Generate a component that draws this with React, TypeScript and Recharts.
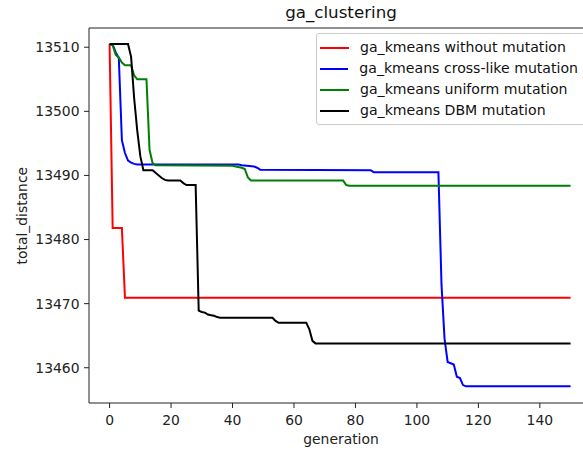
import React from 'react';
import { LineChart, Line, XAxis, YAxis, Legend, ReferenceLine } from 'recharts';

// ---- data ----
const title = 'ga_clustering';
const xLabel = 'generation';
const yLabel = 'total_distance';
const xTicks = [0, 20, 40, 60, 80, 100, 120, 140];
const yTicks = [13460, 13470, 13480, 13490, 13500, 13510];

const seriesNames = [
  'ga_kmeans without mutation',
  'ga_kmeans cross-like mutation',
  'ga_kmeans uniform mutation',
  'ga_kmeans DBM mutation',
];
const seriesColors = ['#ff0000', '#0000ff', '#008000', '#000000'];

const redGen = [0, 1, 4, 5, 150];
const redVal = [13510.5, 13481.8, 13481.8, 13470.9, 13470.9];

const blueGen = [0, 1, 2, 3, 4, 5, 6, 7, 8, 9, 42, 43, 47, 48, 49, 85, 86, 107, 108, 109, 110, 111, 112, 113, 114, 115, 116, 150];
const blueVal = [13510.5, 13510.4, 13509.2, 13508.3, 13495.5, 13493.5, 13492.3, 13492.0, 13491.8, 13491.7, 13491.7, 13491.6, 13491.4, 13491.2, 13490.9, 13490.8, 13490.5, 13490.5, 13473.0, 13464.5, 13460.9, 13460.7, 13460.5, 13458.6, 13458.4, 13457.3, 13457.1, 13457.1];

const greenGen = [0, 1, 2, 3, 4, 5, 7, 8, 9, 12, 13, 14, 15, 40, 41, 43, 44, 45, 46, 76, 77, 78, 150];
const greenVal = [13510.5, 13510.3, 13508.8, 13508.4, 13507.6, 13507.2, 13507.2, 13505.6, 13505.0, 13505.0, 13494.0, 13491.9, 13491.6, 13491.5, 13491.4, 13491.2, 13491.0, 13489.7, 13489.2, 13489.2, 13488.5, 13488.4, 13488.4];

const blackGen = [0, 6, 7, 8, 9, 10, 11, 14, 16, 17, 18, 19, 23, 24, 25, 28, 29, 30, 31, 32, 33, 34, 35, 36, 53, 54, 55, 64, 65, 66, 67, 150];
const blackVal = [13510.5, 13510.5, 13508.5, 13502.0, 13497.0, 13493.0, 13490.8, 13490.8, 13490.0, 13489.6, 13489.3, 13489.2, 13489.2, 13488.8, 13488.5, 13488.5, 13468.9, 13468.7, 13468.6, 13468.3, 13468.2, 13468.1, 13467.9, 13467.8, 13467.8, 13467.3, 13467.0, 13467.0, 13466.0, 13464.2, 13463.8, 13463.8];

const gens = [redGen, blueGen, greenGen, blackGen];
const vals = [redVal, blueVal, greenVal, blackVal];

const xDomain = [-6.7, 157.3];
const yDomain = [13454.5, 13513.0];

const FONT = 'DejaVu Sans';

const seriesData = gens.map((gs, s) => gs.map((g, i) => ({ g, v: vals[s][i] })));

const LegendBox = (props: any) => {
  const payload = [...(props.payload || [])].sort(
    (a: any, b: any) => seriesNames.indexOf(a.value) - seriesNames.indexOf(b.value)
  );
  return (
    <div
      style={{
        border: '1px solid #cccccc',
        borderRadius: 3,
        background: 'rgba(255,255,255,0.8)',
        padding: '3px 8px 3px 3px',
        fontFamily: FONT,
        fontSize: 14.1,
        color: '#111',
        width: 258,
      }}
    >
      {payload.map((p: any) => (
        <div key={p.value} style={{ height: 21, display: 'flex', alignItems: 'center', whiteSpace: 'nowrap' }}>
          <span style={{ display: 'inline-block', width: 29, height: 2, background: p.color }} />
          <span style={{ marginLeft: 11, lineHeight: '21px' }}>{p.value}</span>
        </div>
      ))}
    </div>
  );
};

const XLabel = () => (
  <text x={341} y={444} textAnchor="middle" fontFamily={FONT} fontSize={13.9} fill="#222">
    {xLabel}
  </text>
);

const YLabel = () => (
  <text
    x={27}
    y={215.7}
    transform="rotate(-90 27 215.7)"
    textAnchor="middle"
    fontFamily={FONT}
    fontSize={13.9}
    fill="#222"
  >
    {yLabel}
  </text>
);

export default function App() {
  const tickStyle = { fontFamily: FONT, fontSize: 13.9, fill: '#222' };
  return (
    <div style={{ position: 'absolute', left: 0, top: 0, width: 583, height: 451, overflow: 'hidden', background: '#fff' }}>
      <svg width={583} height={30} style={{ position: 'absolute', left: 0, top: 0 }}>
        <text x={341} y={17.5} textAnchor="middle" fontFamily={FONT} fontSize={16.7} fill="#111">
          {title}
        </text>
      </svg>
      <LineChart width={600} height={451} margin={{ top: 28, right: 7, bottom: 0, left: 0 }}>
        <XAxis
          type="number"
          dataKey="g"
          domain={xDomain}
          ticks={xTicks}
          allowDataOverflow
          height={48}
          tickSize={5}
          tickMargin={7}
          tick={tickStyle}
          axisLine={{ stroke: '#222', strokeWidth: 1 }}
          tickLine={{ stroke: '#222', strokeWidth: 1 }}
          label={<XLabel />}
        />
        <YAxis
          type="number"
          domain={yDomain}
          ticks={yTicks}
          allowDataOverflow
          width={89}
          tickSize={5}
          tickMargin={4.5}
          tick={tickStyle}
          axisLine={{ stroke: '#222', strokeWidth: 1 }}
          tickLine={{ stroke: '#222', strokeWidth: 1 }}
          label={<YLabel />}
        />
        <ReferenceLine y={yDomain[1]} stroke="#222" strokeWidth={1} ifOverflow="extendDomain" />
        {seriesData.map((d, i) => (
          <Line
            key={seriesNames[i]}
            data={d}
            dataKey="v"
            name={seriesNames[i]}
            type="linear"
            stroke={seriesColors[i]}
            strokeWidth={2}
            dot={false}
            activeDot={false}
            isAnimationActive={false}
          />
        ))}
        <Legend
          layout="horizontal"
          verticalAlign="middle"
          align="center"
          wrapperStyle={{ left: 316, top: 33, width: 'auto', height: 'auto' }}
          content={<LegendBox />}
        />
      </LineChart>
    </div>
  );
}
